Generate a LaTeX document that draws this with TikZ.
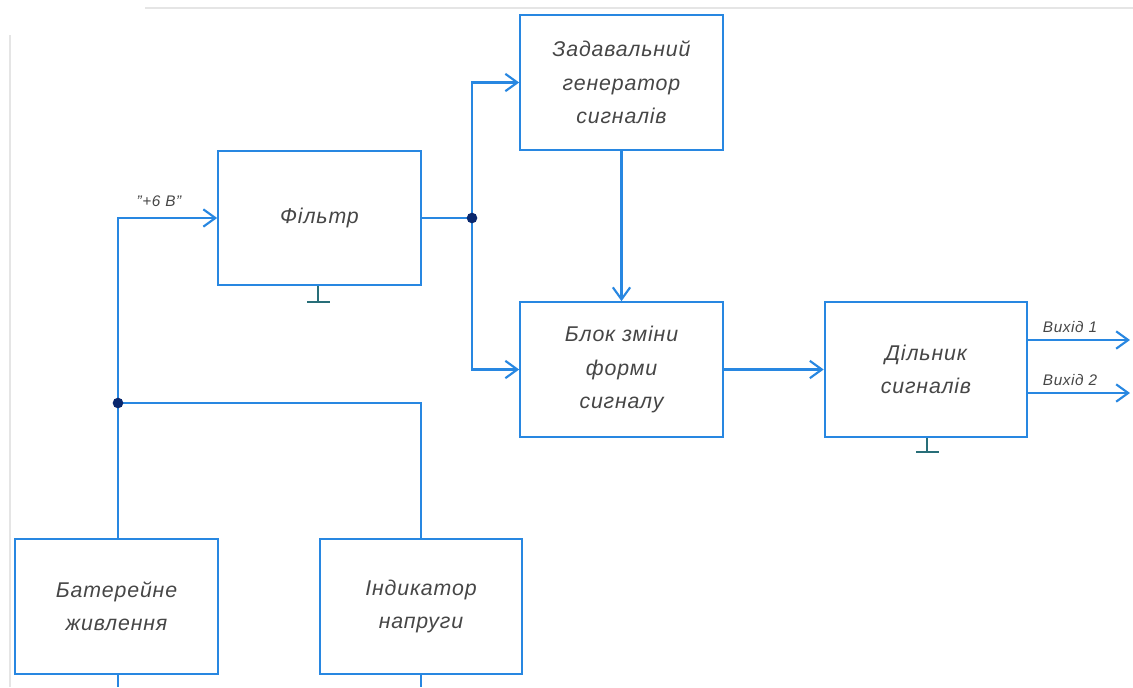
\documentclass[tikz,border=0pt]{standalone}
\usepackage{fontspec}
\setmainfont{Liberation Sans}[LetterSpace=4]
\usetikzlibrary{arrows.meta}
\definecolor{lineblue}{RGB}{40,135,225}
\definecolor{dotblue}{RGB}{10,40,110}
\definecolor{gndteal}{RGB}{40,110,120}
\definecolor{txtgray}{RGB}{70,70,70}
\begin{document}
\begin{tikzpicture}[x=0.75pt,y=-0.75pt,
  blockbox/.style={draw=lineblue, line width=1.5pt, minimum width=152pt, minimum height=101pt,
    align=center, text=txtgray, font=\fontsize{16}{25}\selectfont\itshape, inner sep=0pt},
  wire/.style={draw=lineblue, line width=1.6pt},
  arr/.style={wire, -{Straight Barb[length=9pt,width=13pt]}},
  junction/.style={circle, fill=dotblue, inner sep=0pt, minimum size=8pt},
  gnd/.style={draw=gndteal, line width=1.5pt},
  smalllbl/.style={text=txtgray, font=\fontsize{11.5}{13}\selectfont\itshape, inner sep=1pt}
]
\useasboundingbox (0,0) rectangle (1133,687);
% faint frame
\draw[black!10, line width=1.5pt] (145,8) -- (1133,8);
\draw[black!10, line width=1.5pt] (10,35) -- (10,687);

% blocks
\node[blockbox] (fil) at (319.5,218) {Фільтр};
\node[blockbox] (gen) at (621.5,82.5) {Задавальний\\генератор\\сигналів};
\node[blockbox] (blk) at (621.5,369.5) {Блок зміни\\форми\\сигналу};
\node[blockbox] (dil) at (926,369.5) {Дільник\\сигналів};
\node[blockbox] (bat) at (116.5,606.5) {Батерейне\\живлення};
\node[blockbox] (ind) at (421,606.5) {Індикатор\\напруги};

% junctions
\coordinate (j1) at (118,403);
\coordinate (j2) at (472,218);
\coordinate (o1) at (1130,340);
\coordinate (o2) at (1130,393);

% wires
\draw[arr] (bat.north -| j1) |- (fil.west);
\draw[wire] (j1) -| (ind.north);
\draw[wire] (fil.east) -- (j2);
\draw[arr] (j2) |- (gen.west);
\draw[arr] (j2) |- (blk.west);
\draw[arr] (gen.south) -- (blk.north);
\draw[arr] (blk.east) -- (dil.west);
\draw[arr] (dil.east |- o1) -- (o1);
\draw[arr] (dil.east |- o2) -- (o2);
\node[junction] at (j1) {};
\node[junction] at (j2) {};

% labels
\node[smalllbl] (plus) at (159,201) {"+6 В"};
\node[smalllbl] (v1) at (1070,327) {Вихід 1};
\node[smalllbl] (v2) at (1070,380) {Вихід 2};

% ground marks
\coordinate (gf) at (318,302);
\draw[gnd] (fil.south -| gf) -- (gf);
\draw[gnd] (307,302) -- (330,302);
\coordinate (gd) at (927,452);
\draw[gnd] (dil.south -| gd) -- (gd);
\draw[gnd] (916,452) -- (939,452);
\draw[wire] (bat.south -| j1) -- (118,687);
\draw[wire] (ind.south) -- (ind.south |- 0,687);
\end{tikzpicture}
\end{document}
